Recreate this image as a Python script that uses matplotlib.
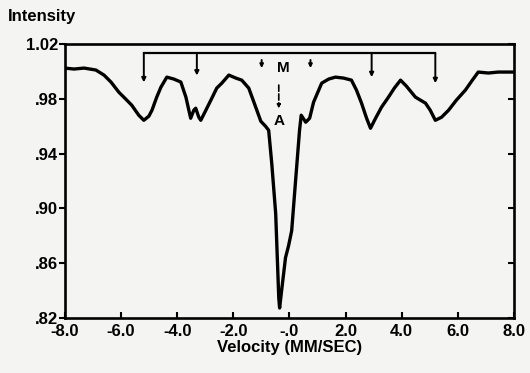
import matplotlib.pyplot as plt

plt.rcParams['font.family'] = ['Liberation Sans', 'DejaVu Sans']
plt.rcParams['font.weight'] = 'bold'

# spectrum
velocity = [-8.00, -7.68, -7.32, -6.90, -6.61, -6.36, -6.08, -5.83, -5.62, -5.37,
            -5.19, -5.01, -4.90, -4.73, -4.58, -4.37, -4.12, -3.87, -3.69, -3.52,
            -3.41, -3.34, -3.23, -3.16, -2.98, -2.80, -2.59, -2.41, -2.16, -1.91,
            -1.70, -1.45, -1.20, -1.02, -0.85, -0.74, -0.63, -0.49, -0.38, -0.35,
            -0.28, -0.14, -0.03, 0.08, 0.22, 0.36, 0.42, 0.58, 0.72, 0.86,
            1.15, 1.40, 1.64, 1.93, 2.21, 2.39, 2.57, 2.75, 2.89, 3.07,
            3.28, 3.53, 3.74, 3.96, 4.17, 4.49, 4.85, 5.02, 5.20, 5.42,
            5.67, 5.95, 6.27, 6.52, 6.73, 7.09, 7.44, 8.00]
intensity = [1.0024, 1.0017, 1.0024, 1.0010, 0.9973, 0.9922, 0.9848, 0.9797, 0.9753, 0.9680,
             0.9643, 0.9673, 0.9716, 0.9812, 0.9885, 0.9958, 0.9944, 0.9922, 0.9812, 0.9658,
             0.9716, 0.9731, 0.9665, 0.9643, 0.9716, 0.9790, 0.9878, 0.9914, 0.9973, 0.9951,
             0.9936, 0.9878, 0.9738, 0.9636, 0.9599, 0.9570, 0.9328, 0.8962, 0.8347, 0.8273,
             0.8398, 0.8640, 0.8728, 0.8837, 0.9204, 0.9570, 0.9680, 0.9629, 0.9658, 0.9775,
             0.9914, 0.9944, 0.9958, 0.9951, 0.9936, 0.9863, 0.9768, 0.9658, 0.9585, 0.9658,
             0.9738, 0.9812, 0.9878, 0.9936, 0.9892, 0.9812, 0.9768, 0.9716, 0.9643, 0.9665,
             0.9716, 0.9790, 0.9863, 0.9936, 0.9995, 0.9988, 0.9995, 0.9995]

# sextet (M) line positions and marker ends
m_lines = [-5.19, -3.30, 2.93, 5.20]
m_ends = [0.992, 0.997, 0.9958, 0.9914]
m_short = [-0.99, 0.75]
bracket_y = 1.0134

xticks = [-8, -6, -4, -2, 0, 2, 4, 6, 8]
xlabels = ['-8.0', '-6.0', '-4.0', '-2.0', '-.0', '2.0', '4.0', '6.0', '8.0']
yticks = [1.02, 0.98, 0.94, 0.90, 0.86, 0.82]
ylabels = ['1.02', '.98', '.94', '.90', '.86', '.82']

bg = '#f4f4f2'
fig = plt.figure(figsize=(5.3, 3.73), dpi=100, facecolor=bg)
ax = fig.add_axes([0.1226, 0.1475, 0.847, 0.7346], facecolor=bg)

ax.plot(velocity, intensity, color='black', linewidth=2.4, solid_joinstyle='round')

ax.plot([m_lines[0], m_lines[-1]], [bracket_y, bracket_y], color='black', linewidth=1.6)
for xm, ye in zip(m_lines, m_ends):
    ax.annotate('', xy=(xm, ye), xytext=(xm, bracket_y),
                arrowprops=dict(arrowstyle='-|>', color='black', lw=1.4,
                                mutation_scale=6, shrinkA=0, shrinkB=0))
for xm in m_short:
    ax.annotate('', xy=(xm, 1.0024), xytext=(xm, 1.0083),
                arrowprops=dict(arrowstyle='-|>', color='black', lw=1.4,
                                mutation_scale=5, shrinkA=0, shrinkB=0))

ax.text(-0.21, 1.0024, 'M', ha='center', va='center', fontsize=11, fontweight='bold')
ax.annotate('', xy=(-0.38, 0.973), xytext=(-0.38, 0.990),
            arrowprops=dict(arrowstyle='-|>', color='black', lw=1.2, ls='--',
                            mutation_scale=5, shrinkA=0, shrinkB=0))
ax.text(-0.38, 0.9635, 'A', ha='center', va='center', fontsize=11, fontweight='bold')

ax.set_xlim(-8, 8)
ax.set_ylim(0.82, 1.02)
ax.set_xticks(xticks)
ax.set_xticklabels(xlabels)
ax.set_yticks(yticks)
ax.set_yticklabels(ylabels)
for s in ax.spines.values():
    s.set_linewidth(1.9)
ax.tick_params(axis='both', labelsize=12, width=1.5, length=4)
ax.tick_params(axis='y', direction='out', pad=1, right=True)
ax.tick_params(axis='x', direction='in', pad=4)
for t in ax.yaxis.get_major_ticks():
    t.tick2line.set_marker(0)  # right ticks point inward
ax.set_xlabel('Velocity (MM/SEC)', fontsize=12, fontweight='bold', labelpad=1)
fig.text(0.015, 0.955, 'Intensity', fontsize=12, fontweight='bold', ha='left', va='center')

fig.savefig('out.png', dpi=100, facecolor=bg)
